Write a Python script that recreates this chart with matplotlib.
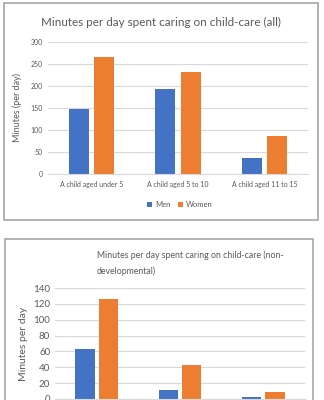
import numpy as np
import matplotlib
matplotlib.use("Agg")
import matplotlib.pyplot as plt
from matplotlib.patches import Rectangle

plt.rcParams['font.family'] = ['Lato', 'DejaVu Sans']

# data
categories = ["A child aged under 5", "A child aged 5 to 10", "A child aged 11 to 15"]
series = ["Men", "Women"]
all_men = [148, 193, 36]
all_women = [265, 232, 87]
nondev_men = [63, 11, 2]
nondev_women = [126, 43, 9]

blue = "#4472C4"
orange = "#ED7D31"
txt = "#595959"
grid = "#D9D9D9"

W, H = 324, 400
fig = plt.figure(figsize=(W / 100, H / 100), dpi=100)

def box(x0, y0, x1, y1):
    # chart frame in pixel coords (top-left origin)
    fig.add_artist(Rectangle((x0 / W, 1 - y1 / H), (x1 - x0) / W, (y1 - y0) / H,
                             transform=fig.transFigure, fill=False,
                             edgecolor="#A6A6A6", lw=1.2))

def axes_px(x0, y0, x1, y1):
    return fig.add_axes([x0 / W, 1 - y1 / H, (x1 - x0) / W, (y1 - y0) / H])

def style(ax, ymax, step, fs):
    ax.set_ylim(0, ymax)
    ax.set_xlim(-0.5, 2.5)
    ax.set_yticks(np.arange(0, ymax + 1, step))
    ax.grid(axis="y", color=grid, lw=0.8)
    ax.set_axisbelow(True)
    for s in ["top", "right", "left"]:
        ax.spines[s].set_visible(False)
    ax.spines["bottom"].set_color(grid)
    ax.tick_params(length=0, colors=txt, labelsize=fs)

# top chart
box(4, 3, 318, 220)
ax1 = axes_px(48, 42, 308, 174)
x = np.arange(len(categories))
w = 0.23
ax1.bar(x - 0.145, all_men, w, color=blue, label=series[0])
ax1.bar(x + 0.145, all_women, w, color=orange, label=series[1])
style(ax1, 300, 50, 5)
ax1.set_xticks(x)
ax1.set_xticklabels(categories)
ax1.tick_params(axis="x", pad=5)
ax1.set_ylabel("Minutes (per day)", color=txt, fontsize=6.5, labelpad=6)
fig.text(161 / W, 1 - 22 / H, "Minutes per day spent caring on child-care (all)",
         ha="center", va="center", color=txt, fontsize=8.4)
fig.legend(*ax1.get_legend_handles_labels(), loc="center", ncol=2,
           bbox_to_anchor=(180 / W, 1 - 205 / H), frameon=False, fontsize=5.5,
           labelcolor=txt, handlelength=0.6, handleheight=0.6, handletextpad=0.4,
           columnspacing=1.0)

# bottom chart (cut off by the image edge, category labels fall outside)
box(5, 239, 313, 420)
ax2 = axes_px(55, 288, 305, 399)
ax2.bar(x - 0.14, nondev_men, w, color=blue)
ax2.bar(x + 0.14, nondev_women, w, color=orange)
style(ax2, 140, 20, 7)
ax2.set_xticks(x)
ax2.set_xticklabels([])
ax2.set_ylabel("Minutes per day", color=txt, fontsize=7.5, labelpad=4)
fig.text(97 / W, 1 - 263 / H,
         "Minutes per day spent caring on child-care (non-\ndevelopmental)",
         ha="left", va="center", color=txt, fontsize=6.3, linespacing=1.8)

fig.savefig("out.png", dpi=100, facecolor="white")
